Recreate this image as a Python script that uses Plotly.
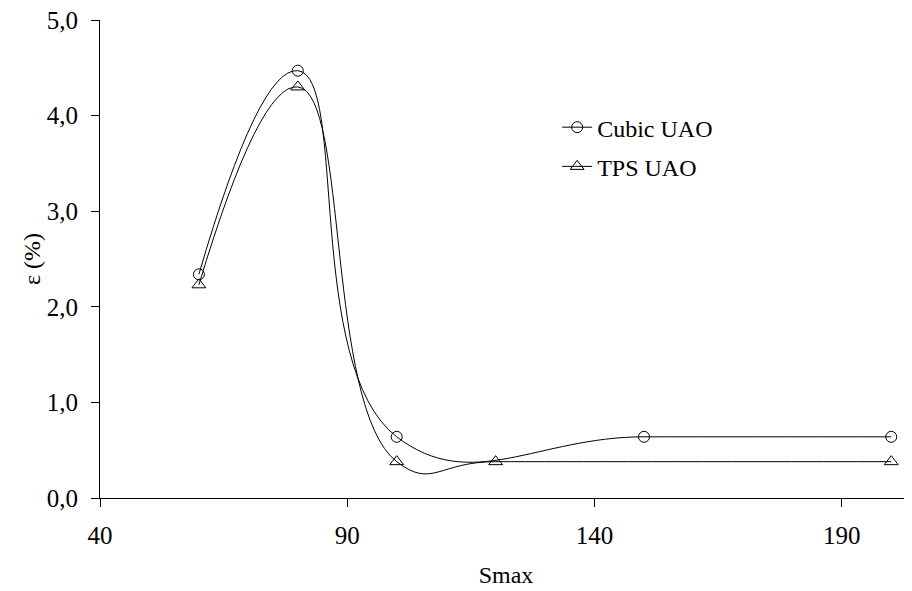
import plotly.graph_objects as go

smax_cubic = [60, 80, 100, 150, 200]
eps_cubic = [2.34, 4.47, 0.64, 0.64, 0.64]
smax_tps = [60, 80, 100, 120, 200]
eps_tps = [2.23, 4.30, 0.38, 0.38, 0.38]

x_ticks = [40, 90, 140, 190]
y_ticks = [0, 1, 2, 3, 4, 5]

FONT = "Liberation Serif, Times New Roman, serif"

fig = go.Figure()
fig.add_trace(go.Scatter(
    x=smax_cubic, y=eps_cubic, name="Cubic UAO", mode="lines+markers",
    line=dict(color="black", width=1, shape="spline", smoothing=1.3),
    marker=dict(symbol="circle-open", size=11, color="black", line=dict(width=1)),
    legendgroup="a",
))
fig.add_trace(go.Scatter(
    x=smax_tps, y=eps_tps, name="TPS UAO", mode="lines+markers",
    line=dict(color="black", width=1, shape="spline", smoothing=1.3),
    marker=dict(symbol="triangle-up-open", size=12, color="black", line=dict(width=1)),
    legendgroup="b",
))

fig.add_annotation(
    text="ε (%)", textangle=-90, xref="paper", yref="paper",
    x=0, y=0.5, xanchor="center", yanchor="middle", xshift=-68,
    showarrow=False, font=dict(family=FONT, size=24, color="black"),
)

fig.update_layout(
    width=912, height=591,
    margin=dict(l=92, r=8, t=12, b=101),
    paper_bgcolor="white", plot_bgcolor="white",
    font=dict(family=FONT, size=24, color="black"),
    separators=", ",
    showlegend=True,
    legend=dict(x=0.563, y=0.822, xanchor="left", yanchor="top",
                bgcolor="rgba(0,0,0,0)", font=dict(size=24),
                tracegroupgap=5, itemwidth=30),
    xaxis=dict(
        range=[40, 204.2], tickvals=x_ticks, ticks="outside", ticklen=8,
        tickcolor="black", showline=True, linecolor="black", linewidth=1,
        showgrid=False, zeroline=False, automargin=False,
        tickfont=dict(size=25), ticklabelstandoff=7,
        title=dict(text="Smax", standoff=18, font=dict(size=24)),
    ),
    yaxis=dict(
        range=[0, 5], tickvals=y_ticks, tickformat=".1f", ticks="outside",
        ticklen=8, tickcolor="black", showline=True, linecolor="black",
        linewidth=1, showgrid=False, zeroline=False, automargin=False,
        tickfont=dict(size=25), ticklabelstandoff=8, ticklabeloverflow="allow",
    ),
)

fig.write_html("out.html")
